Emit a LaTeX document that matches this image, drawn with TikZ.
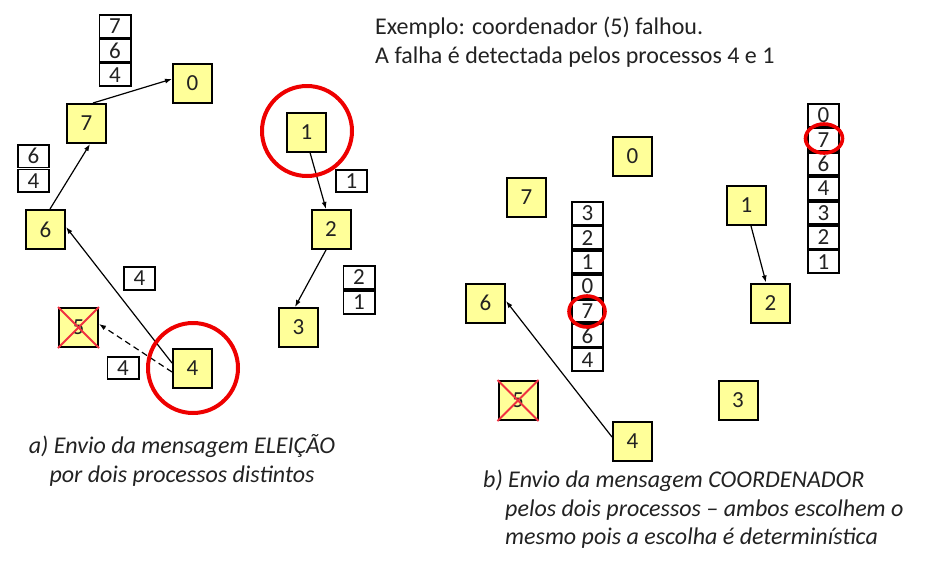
\documentclass[tikz,border=0pt]{standalone}
\usepackage{fontspec}
\setmainfont{Carlito}
\usetikzlibrary{arrows.meta,shapes.geometric}
\definecolor{procyellow}{HTML}{FFFF99}
\definecolor{txt}{HTML}{222222}
\definecolor{ringred}{HTML}{EE0000}
\definecolor{xred}{HTML}{F03040}
\tikzset{
  proc/.style={rectangle, draw=black, line width=2pt, fill=procyellow, minimum size=39pt, inner sep=0pt, font=\fontsize{23}{26}\selectfont, text=txt},
  cell/.style={rectangle, draw=black, line width=1.8pt, fill=white, minimum width=31.2pt, minimum height=22.6pt, inner sep=0pt, font=\fontsize{23}{26}\selectfont, text=txt},
  arr/.style={-{Latex[length=7pt,width=5pt]}, line width=1.2pt, black},
  ring/.style={circle, draw=ringred, line width=4pt, inner sep=0pt},
  smallring/.style={ellipse, draw=ringred, line width=3.6pt, inner sep=0pt},
  crossline/.style={draw=xred, line width=1.8pt},
  caption/.style={font=\fontsize{24}{28}\selectfont\itshape, text=txt, inner sep=0pt},
  toptext/.style={font=\fontsize{24}{28}\selectfont, text=txt, inner sep=0pt}
}
\begin{document}
\begin{tikzpicture}[x=1pt,y=-1pt]
\useasboundingbox (0,0) rectangle (925,560);
% ---------- left diagram ----------
\node[proc] (L0) at (192.5,83) {0};
\node[proc] (L7) at (86.5,123.5) {7};
\node[proc] (L6) at (45.5,229.5) {6};
\node[proc] (L5) at (78.5,327.5) {5};
\node[proc] (L4) at (192.5,368.5) {4};
\node[proc] (L1) at (306.5,132) {1};
\node[proc] (L2) at (331,229.5) {2};
\node[proc] (L3) at (298.5,327.5) {3};
\draw[crossline] (L5.north west) -- (L5.south east);
\draw[crossline] (L5.north east) -- (L5.south west);
% message stacks
\node[cell] (sa1) at (115,26.2) {7};
\node[cell] (sa2) at (115,50.5) {6};
\node[cell] (sa3) at (115,74.8) {4};
\node[cell] (sb1) at (33.5,156.2) {6};
\node[cell] (sb2) at (33.5,180.8) {4};
\node[cell] (sc1) at (351.5,181) {1};
\node[cell] (sd1) at (139.5,278.5) {4};
\node[cell] (se1) at (123,368) {4};
\node[cell] (sf1) at (359,277.5) {2};
\node[cell] (sf2) at (359,302.5) {1};
% arrows
\draw[arr] ([xshift=6.5pt]L7.north) -- ([yshift=4pt]L0.west);
\draw[arr] ([xshift=4.5pt]L6.north) -- ([xshift=3.5pt]L7.south);
\draw[arr] ([yshift=5.5pt]L4.west) -- ([yshift=2.5pt]L6.east);
\draw[arr, dashed, dash pattern=on 6pt off 4pt] ([yshift=-3.5pt]L4.west) -- ([yshift=3.5pt]L5.east);
\draw[arr] ([xshift=3.5pt]L1.south) -- ([xshift=-5pt]L2.north);
\draw[arr] ([xshift=-5pt]L2.south) -- ([xshift=-3.5pt]L3.north);
% rings
\node[ring, minimum size=90pt] (rL1) at (307,131) {};
\node[ring, minimum size=90pt] (rL4) at (193,368) {};
% caption a
\node[caption, anchor=base] (capa1) at (182,453) {a) Envio da mensagem ELEIÇÃO};
\node[caption, anchor=base] (capa2) at (182,482) {por dois processos distintos};
% ---------- right diagram ----------
\node[proc] (R0) at (632.5,156.5) {0};
\node[proc] (R7) at (526.5,197) {7};
\node[proc] (R6) at (485.5,303) {6};
\node[proc] (R5) at (518,400.5) {5};
\node[proc] (R4) at (632.5,441.5) {4};
\node[proc] (R3) at (738,400.5) {3};
\node[proc] (R2) at (770.5,303) {2};
\node[proc] (R1) at (746.5,205.5) {1};
\draw[crossline] (R5.north west) -- (R5.south east);
\draw[crossline] (R5.north east) -- (R5.south west);
% stacks
\foreach \v [count=\i from 0] in {3,2,1,0,7,6,4}{
  \node[cell] (sg\i) at (587.5,213.2+24.43*\i) {\v};
}
\foreach \v [count=\i from 0] in {0,7,6,4,3,2,1}{
  \node[cell] (sh\i) at (823.5,115.2+24.43*\i) {\v};
}
\draw[arr] ([yshift=4.5pt]R4.west) -- ([yshift=2pt]R6.east);
\draw[arr] ([xshift=4.5pt]R1.south) -- ([xshift=-4.5pt]R2.north);
\node[smallring, minimum width=36pt, minimum height=31pt] (rg) at (587,311.5) {};
\node[smallring, minimum width=37pt, minimum height=29pt] (rh) at (824,138.5) {};
% caption b
\node[caption, anchor=base west] (capb1) at (483,487) {b) Envio da mensagem COORDENADOR};
\node[caption, anchor=base west] (capb2) at (505,516) {pelos dois processos -- ambos escolhem o};
\node[caption, anchor=base west] (capb3) at (505,544) {mesmo pois a escolha é determinística};
% top text
\node[toptext, anchor=base west] (top1) at (375,34) {Exemplo: coordenador (5) falhou.};
\node[toptext, anchor=base west] (top2) at (375,63) {A falha é detectada pelos processos 4 e 1};
\end{tikzpicture}
\end{document}
